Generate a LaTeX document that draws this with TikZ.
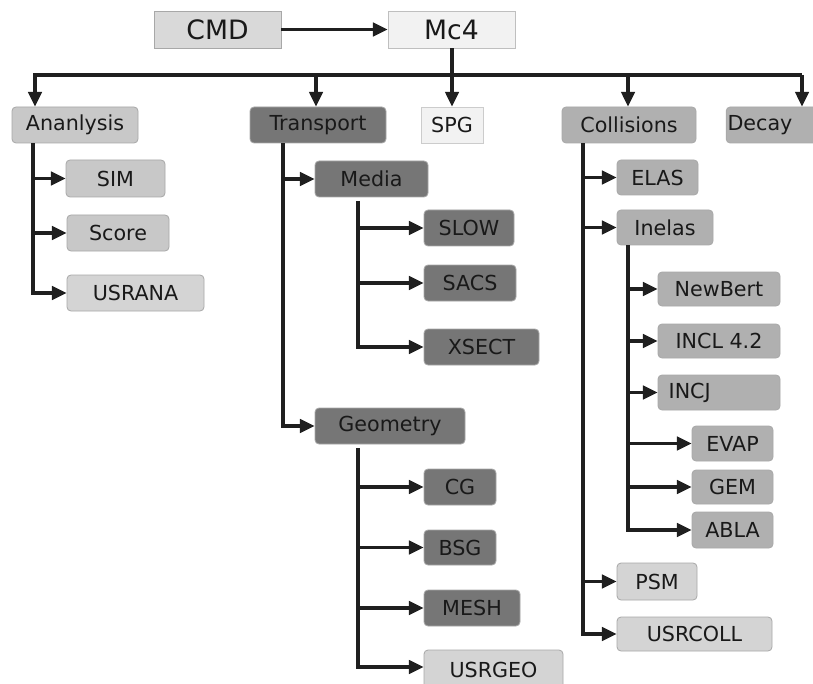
\documentclass[tikz,border=0pt]{standalone}
\usepackage{fontspec}
\setmainfont{DejaVu Sans}
\usetikzlibrary{arrows.meta}
\definecolor{cmdfill}{HTML}{D9D9D9}
\definecolor{mcfill}{HTML}{F2F2F2}
\definecolor{lightg}{HTML}{C8C8C8}
\definecolor{paleg}{HTML}{D4D4D4}
\definecolor{darkg}{HTML}{767676}
\definecolor{midg}{HTML}{B0B0B0}
\definecolor{edgeg}{HTML}{A8A8A8}
\tikzset{
  box/.style={draw=edgeg, line width=0.6pt, rounded corners=3pt, inner sep=0pt,
    font=\fontsize{15.5}{17}\selectfont, text=black!90},
  sqbox/.style={box, rounded corners=0pt},
  conn/.style={line width=2.4pt, draw=black!88},
  arr/.style={conn, -{Triangle[length=11pt,width=10pt]}},
}
\newcommand{\bx}[7]{%
  \node[#6, minimum width={(#4-#2)*0.75pt}, minimum height={(#5-#3)*0.75pt}]
    (#1) at ({(#2+#4)/2},{(#3+#5)/2}) {#7};}
\begin{document}
\begin{tikzpicture}[x=0.75pt,y=-0.75pt]
\clip (0,0) rectangle (813,684);
\fill[white] (0,0) rectangle (813,684);
% top
\bx{cmd}{154}{11}{281}{48}{sqbox,fill=cmdfill,font=\fontsize{20}{22}\selectfont}{CMD}
\bx{mc}{388}{11}{515}{48}{sqbox,fill=mcfill,draw=black!25,font=\fontsize{20}{22}\selectfont}{Mc4}
\draw[arr] (cmd) -- (mc);
% level 1
\bx{anal}{12}{107}{138}{143}{box,fill=lightg}{Ananlysis}
\bx{trans}{250}{107}{386}{143}{box,fill=darkg}{Transport}
\bx{spg}{421}{107}{483}{143}{sqbox,fill=mcfill,draw=black!20}{SPG}
\bx{coll}{562}{107}{696}{143}{box,fill=midg}{Collisions}
\bx{decay}{729}{107}{830}{143}{box,fill=midg,text width=80pt,align=left}{\hspace*{1pt}Decay}
\coordinate (busL) at (33,75);
\coordinate (busR) at (802,75);
\draw[conn] (busL) -- (busR);
\draw[arr] (mc.south -| 452,0) -- (spg.north -| 452,0);
\draw[arr] (35,75) -- (anal.north -| 35,0);
\draw[arr] (316,75) -- (trans.north -| 316,0);
\draw[arr] (628,75) -- (coll.north -| 628,0);
\draw[arr] (802,75) -- (decay.north -| 802,0);
% analysis
\bx{sim}{66}{160}{165}{197}{box,fill=lightg}{SIM}
\bx{score}{67}{215}{169}{251}{box,fill=lightg}{Score}
\bx{usrana}{67}{275}{204}{311}{box,fill=paleg}{USRANA}
\draw[arr] (anal.south -| 33,0) |- (usrana.west);
\draw[arr] (sim.west -| 33,0) -- (sim.west);
\draw[arr] (score.west -| 33,0) -- (score.west);
% transport
\bx{media}{315}{161}{428}{197}{box,fill=darkg}{Media}
\bx{geom}{315}{408}{465}{444}{box,fill=darkg}{Geometry}
\draw[arr] (trans.south -| 283,0) |- (geom.west);
\draw[arr] (media.west -| 283,0) -- (media.west);
\bx{slow}{424}{210}{514}{246}{box,fill=darkg}{SLOW}
\bx{sacs}{424}{265}{516}{301}{box,fill=darkg}{SACS}
\bx{xsect}{424}{329}{539}{365}{box,fill=darkg}{XSECT}
\draw[arr] (358,201) |- (xsect.west);
\draw[arr] (slow.west -| 358,0) -- (slow.west);
\draw[arr] (sacs.west -| 358,0) -- (sacs.west);
\bx{cg}{424}{469}{496}{505}{box,fill=darkg}{CG}
\bx{bsg}{424}{530}{496}{565}{box,fill=darkg}{BSG}
\bx{mesh}{424}{590}{520}{626}{box,fill=darkg}{MESH}
\bx{usrgeo}{424}{650}{563}{690}{box,fill=paleg}{USRGEO}
\draw[arr] (358,448) |- (usrgeo.west |- 0,667);
\draw[arr] (cg.west -| 358,0) -- (cg.west);
\draw[arr] (bsg.west -| 358,0) -- (bsg.west);
\draw[arr] (mesh.west -| 358,0) -- (mesh.west);
% collisions
\bx{elas}{617}{160}{698}{195}{box,fill=midg}{ELAS}
\bx{inel}{617}{210}{713}{245}{box,fill=midg}{Inelas}
\bx{psm}{617}{563}{697}{600}{box,fill=paleg}{PSM}
\bx{usrcoll}{617}{617}{772}{651}{box,fill=paleg}{USRCOLL}
\draw[arr] (coll.south -| 583,0) |- (usrcoll.west);
\draw[arr] (elas.west -| 583,0) -- (elas.west);
\draw[arr] (inel.west -| 583,0) -- (inel.west);
\draw[arr] (psm.west -| 583,0) -- (psm.west);
\bx{newb}{658}{272}{780}{306}{box,fill=midg}{NewBert}
\bx{incl}{658}{324}{780}{358}{box,fill=midg}{INCL 4.2}
\bx{incj}{658}{375}{780}{410}{box,fill=midg,text width={(780-658-16)*0.75pt},align=left}{\hspace*{2pt}INCJ}
\bx{evap}{692}{426}{773}{461}{box,fill=midg}{EVAP}
\bx{gem}{692}{470}{773}{504}{box,fill=midg}{GEM}
\bx{abla}{692}{512}{773}{548}{box,fill=midg}{ABLA}
\draw[arr] (inel.south -| 628,0) |- (abla.west);
\draw[arr] (newb.west -| 628,0) -- (newb.west);
\draw[arr] (incl.west -| 628,0) -- (incl.west);
\draw[arr] (incj.west -| 628,0) -- (incj.west);
\draw[arr] (evap.west -| 628,0) -- (evap.west);
\draw[arr] (gem.west -| 628,0) -- (gem.west);
\end{tikzpicture}
\end{document}
